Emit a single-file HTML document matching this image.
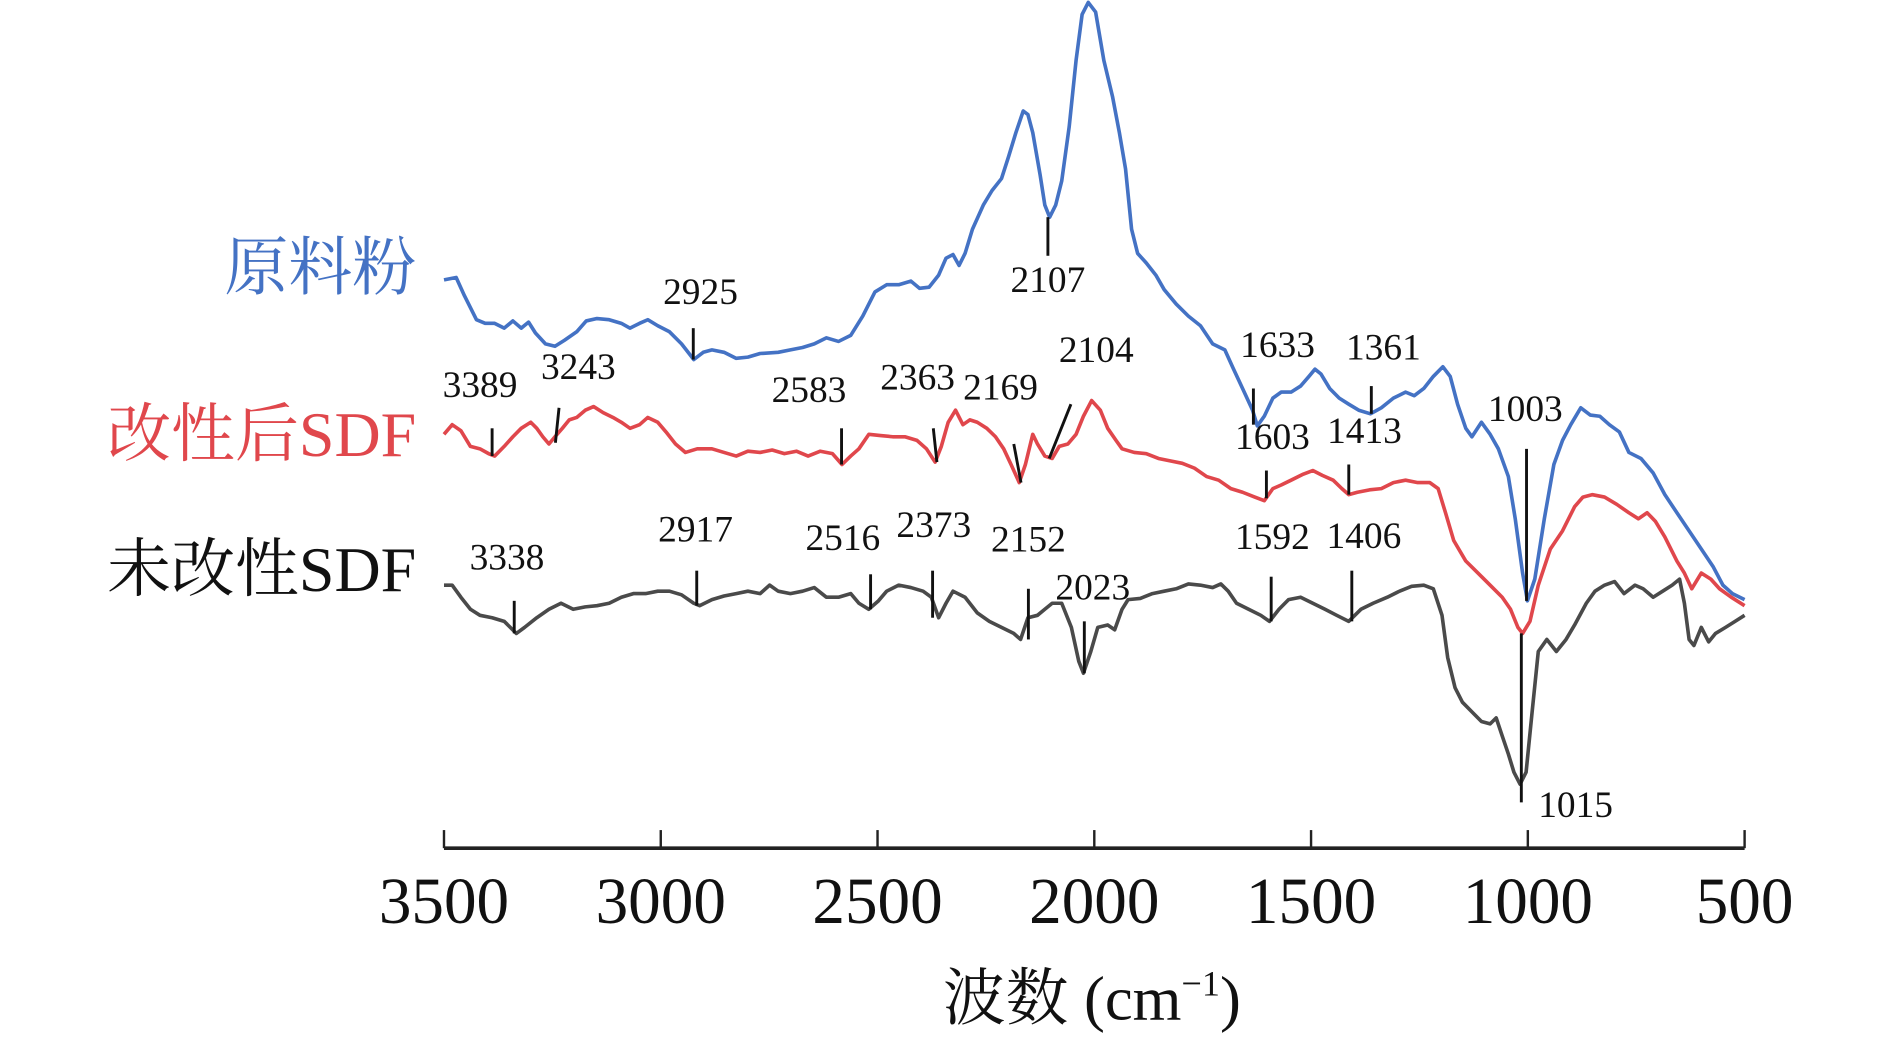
<!DOCTYPE html>
<html><head><meta charset="utf-8"><style>
html,body{margin:0;padding:0;background:#fff;}
svg{display:block;}
text{font-family:"Liberation Serif","Noto Serif CJK SC",serif;}
</style></head><body>
<svg id="chart" width="1890" height="1042" viewBox="0 0 1890 1042" xmlns="http://www.w3.org/2000/svg">
<g id="root" transform="scale(1.2065)">
  <g id="axis"></g>
  <g id="series"></g>
  <g id="annots"></g>
  <text x="345" y="240" text-anchor="end" font-size="53" fill="#4472c4">原料粉</text>
  <text x="345" y="378" text-anchor="end" font-size="53" fill="#e0474c">改性后SDF</text>
  <text x="345" y="490" text-anchor="end" font-size="53" fill="#111">未改性SDF</text>
  <text x="905" y="845" text-anchor="middle" font-size="52" fill="#111">波数 (cm<tspan font-size="30" dy="-20">−1</tspan><tspan dy="20">)</tspan></text>
</g>
</svg>
<script>
const xTicks = [3500,3000,2500,2000,1500,1000,500];
const xTickLabels = ["3500","3000","2500","2000","1500","1000","500"];
const blueSpectrum = [[3500,62.8],[3472,63.0],[3453,61.5],[3425,59.5],[3405,59.2],[3383,59.2],[3361,58.8],[3341,59.4],[3322,58.8],[3305,59.3],[3289,58.4],[3266,57.5],[3244,57.3],[3222,57.8],[3194,58.5],[3172,59.4],[3147,59.6],[3119,59.5],[3091,59.2],[3071,58.8],[3049,59.2],[3030,59.5],[3007,59.0],[2980,58.5],[2952,57.5],[2924,56.2],[2902,56.8],[2882,57.0],[2854,56.8],[2826,56.3],[2799,56.4],[2771,56.7],[2729,56.8],[2701,57.0],[2673,57.2],[2646,57.5],[2618,58.0],[2590,57.7],[2562,58.2],[2534,59.8],[2506,61.8],[2479,62.4],[2451,62.4],[2423,62.7],[2403,62.1],[2381,62.2],[2359,63.2],[2342,64.6],[2326,64.9],[2312,64.0],[2298,65.0],[2281,67.0],[2256,69.0],[2236,70.2],[2214,71.2],[2198,73.0],[2181,75.0],[2164,76.8],[2153,76.5],[2142,75.0],[2125,71.5],[2114,69.0],[2103,68.0],[2089,69.0],[2075,71.0],[2058,75.5],[2042,81.0],[2028,84.8],[2014,85.8],[1997,85.0],[1978,81.0],[1958,78.0],[1942,75.0],[1928,72.0],[1914,67.0],[1900,65.0],[1880,64.2],[1858,63.2],[1839,62.0],[1811,60.8],[1783,59.8],[1755,59.0],[1727,57.5],[1699,57.0],[1680,55.5],[1658,53.8],[1635,52.0],[1624,50.7],[1608,51.5],[1588,53.0],[1569,53.5],[1546,53.5],[1524,54.0],[1505,54.8],[1491,55.4],[1477,55.0],[1457,53.8],[1435,53.0],[1413,52.5],[1390,52.0],[1363,51.7],[1338,52.2],[1310,53.0],[1282,53.5],[1262,53.2],[1240,53.8],[1218,54.8],[1196,55.6],[1179,54.8],[1162,52.5],[1143,50.5],[1129,49.8],[1107,51.0],[1087,50.0],[1068,48.8],[1045,46.5],[1029,43.0],[1012,38.5],[1001,36.2],[984,38.0],[962,43.0],[940,47.5],[920,49.5],[901,50.8],[878,52.2],[856,51.6],[834,51.5],[812,50.8],[789,50.2],[767,48.5],[739,48.0],[711,46.8],[684,45.0],[656,43.5],[628,42.0],[600,40.5],[572,39.0],[550,37.5],[528,36.8],[500,36.3]];
const redSpectrum = [[3500,50.0],[3481,50.8],[3461,50.3],[3439,49.0],[3417,48.8],[3397,48.4],[3383,48.2],[3361,49.0],[3341,49.8],[3322,50.5],[3300,51.0],[3286,50.5],[3272,49.8],[3258,49.2],[3244,49.8],[3227,50.5],[3211,51.2],[3194,51.4],[3174,52.0],[3155,52.3],[3133,51.8],[3110,51.4],[3091,51.0],[3071,50.5],[3049,50.8],[3030,51.4],[3007,51.0],[2988,50.2],[2966,49.2],[2943,48.5],[2916,48.8],[2882,48.8],[2854,48.5],[2826,48.2],[2799,48.6],[2771,48.5],[2743,48.7],[2715,48.4],[2687,48.6],[2660,48.2],[2632,48.6],[2604,48.4],[2582,47.5],[2562,48.2],[2543,48.8],[2520,50.0],[2493,49.9],[2465,49.8],[2437,49.8],[2409,49.5],[2387,48.8],[2367,47.7],[2353,49.0],[2337,51.0],[2320,52.0],[2303,50.8],[2287,51.2],[2270,51.0],[2248,50.5],[2228,49.8],[2209,48.8],[2192,47.5],[2173,46.0],[2159,47.5],[2142,50.0],[2131,49.2],[2114,48.2],[2097,48.0],[2081,49.0],[2061,49.2],[2042,50.0],[2025,51.5],[2006,52.8],[1986,52.0],[1969,50.5],[1950,49.5],[1936,48.8],[1908,48.5],[1880,48.4],[1852,48.0],[1825,47.8],[1797,47.6],[1769,47.2],[1741,46.5],[1713,46.2],[1685,45.5],[1658,45.2],[1630,44.8],[1608,44.5],[1588,45.5],[1569,45.8],[1546,46.2],[1518,46.7],[1496,47.0],[1474,46.6],[1449,46.2],[1429,45.5],[1413,45.0],[1393,45.2],[1365,45.4],[1338,45.5],[1310,46.0],[1282,46.2],[1254,46.0],[1226,46.0],[1207,45.5],[1190,43.5],[1171,41.2],[1143,39.5],[1115,38.5],[1087,37.5],[1059,36.5],[1040,35.5],[1023,34.0],[1012,33.5],[995,34.5],[976,37.5],[948,40.5],[920,42.0],[892,44.0],[873,44.8],[851,45.0],[823,44.8],[795,44.2],[767,43.5],[745,43.0],[725,43.5],[706,42.8],[684,41.5],[656,39.5],[639,38.5],[622,37.2],[600,38.5],[578,38.0],[558,37.2],[531,36.5],[500,35.8]];
const graySpectrum = [[3500,37.5],[3481,37.5],[3461,36.5],[3439,35.5],[3417,35.0],[3389,34.8],[3361,34.5],[3333,33.5],[3314,34.0],[3286,34.8],[3258,35.5],[3230,36.0],[3202,35.5],[3174,35.7],[3147,35.8],[3119,36.0],[3091,36.5],[3063,36.8],[3035,36.8],[3007,37.0],[2980,37.0],[2952,36.7],[2924,36.0],[2910,35.8],[2882,36.3],[2854,36.6],[2826,36.8],[2799,37.0],[2771,36.8],[2749,37.5],[2729,37.0],[2701,36.8],[2673,37.0],[2646,37.3],[2618,36.5],[2590,36.5],[2562,36.8],[2543,36.0],[2520,35.5],[2498,36.2],[2479,37.0],[2451,37.5],[2423,37.3],[2395,37.0],[2376,36.5],[2359,34.8],[2342,36.0],[2326,37.0],[2298,36.5],[2270,35.2],[2242,34.5],[2214,34.0],[2186,33.5],[2170,33.0],[2153,34.8],[2131,35.0],[2114,35.5],[2097,36.0],[2075,36.0],[2053,34.0],[2036,31.2],[2025,30.2],[2008,32.0],[1992,34.0],[1969,34.2],[1953,33.8],[1936,35.5],[1922,36.3],[1894,36.4],[1866,36.8],[1839,37.0],[1811,37.2],[1783,37.6],[1755,37.5],[1727,37.3],[1708,37.6],[1691,37.0],[1672,36.0],[1644,35.5],[1616,35.0],[1596,34.5],[1574,35.5],[1552,36.3],[1524,36.5],[1496,36.0],[1468,35.5],[1441,35.0],[1413,34.5],[1385,35.5],[1357,36.0],[1324,36.5],[1296,37.0],[1268,37.4],[1240,37.5],[1218,37.2],[1198,35.0],[1185,31.5],[1168,29.0],[1151,27.8],[1129,27.0],[1107,26.2],[1087,26.0],[1073,26.5],[1059,25.0],[1045,23.5],[1032,22.0],[1018,21.0],[1004,22.0],[990,27.0],[976,32.0],[956,33.0],[934,32.0],[912,33.0],[892,34.2],[865,36.0],[845,37.0],[823,37.5],[800,37.8],[778,36.8],[753,37.5],[734,37.2],[711,36.5],[689,37.0],[667,37.5],[650,38.0],[639,36.0],[628,33.0],[617,32.5],[600,34.0],[583,32.8],[567,33.5],[544,34.0],[522,34.5],[500,35.0]];
const peakLabels = ["2925","2107","1633","1361","1003","3389","3243","2583","2363","2169","2104","1603","1413","3338","2917","2516","2373","2152","2023","1592","1406","1015"];
const peakTopValues = [58.8,68.0,53.8,54.0,48.8,50.5,52.2,50.5,50.5,49.2,52.5,47.0,47.5,36.2,38.7,38.4,38.7,37.2,34.5,38.2,38.7,33.5];
const peakBottomValues = [56.2,64.8,50.8,51.7,36.2,48.2,49.3,47.5,47.7,46.0,48.0,44.7,45.0,33.5,35.8,35.5,34.8,33.0,30.2,34.5,34.5,19.5];

const SVGNS = "http://www.w3.org/2000/svg";
const X0 = 368, X1 = 1446, AXY = 703;
function xScale(w){ return X0 + (3500 - w) / 3000 * (X1 - X0); }
function yScale(v){ return (86 - v) * 10; }
function mk(tag, attrs, parent){ const e = document.createElementNS(SVGNS, tag); for (const k in attrs) e.setAttribute(k, attrs[k]); parent.appendChild(e); return e; }

const axis = document.getElementById('axis');
const axLine = mk('line', {x1:X0, x2:X1, y1:AXY, y2:AXY, stroke:'#222', 'stroke-width':3}, axis);


xTicks.forEach((t, i) => {
  const x = xScale(t);
  const tk = mk('line', {x1:x, x2:x, y1:688, y2:AXY, stroke:'#222', 'stroke-width':2}, axis);
  
  
  const lb = mk('text', {x:x, y:765, 'text-anchor':'middle', 'font-size':54, fill:'#111'}, axis);
  lb.textContent = xTickLabels[i];
  
  
});

const series = document.getElementById('series');
function drawSeries(data, color, name){
  const d = data.map((p, i) => (i ? 'L' : 'M') + xScale(p[0]).toFixed(1) + ' ' + yScale(p[1]).toFixed(1)).join(' ');
  const path = mk('path', {d:d, fill:'none', stroke:color, 'stroke-width':3, 'stroke-linejoin':'round'}, series);
  
  
}
drawSeries(blueSpectrum, '#4472c4', 'raw-powder-spectrum');
drawSeries(redSpectrum, '#e0474c', 'modified-sdf-spectrum');
drawSeries(graySpectrum, '#4a4a4a', 'unmodified-sdf-spectrum');

const annTopDx = [0,0,0,0,0,0,3,0,-3,-6,18,0,0,0,0,0,0,0,0,0,0,0];
const annText = [[6,-32],[0,30],[20,-38],[10,-34],[-1,-35],[-10,-38],[16,-36],[-27,-34],[-13,-44],[-11,-49],[21,-47],[5,-30],[13,-30],[-6,-38],[-1,-36],[-23,-32],[1,-40],[0,-43],[7,-30],[1,-35],[10,-31],[45,-3]];
const annots = document.getElementById('annots');
peakLabels.forEach((lab, i) => {
  const xb = xScale(+lab);
  const yt = yScale(peakTopValues[i]), yb = yScale(peakBottomValues[i]);
  const ln = mk('line', {x1:xb + annTopDx[i], y1:yt, x2:xb, y2:yb, stroke:'#111', 'stroke-width':2.4}, annots);
  
  
  let ty;
  if (i === 1) ty = yb + annText[i][1];
  else if (i === 21) ty = yb + 12;
  else ty = yt + annText[i][1] + 12;
  const tx = xb + annTopDx[i] + annText[i][0];
  const t = mk('text', {x:tx, y:ty, 'text-anchor':'middle', 'font-size':31, fill:'#111'}, annots);
  t.textContent = lab;
  
  
});
</script>
</body></html>
